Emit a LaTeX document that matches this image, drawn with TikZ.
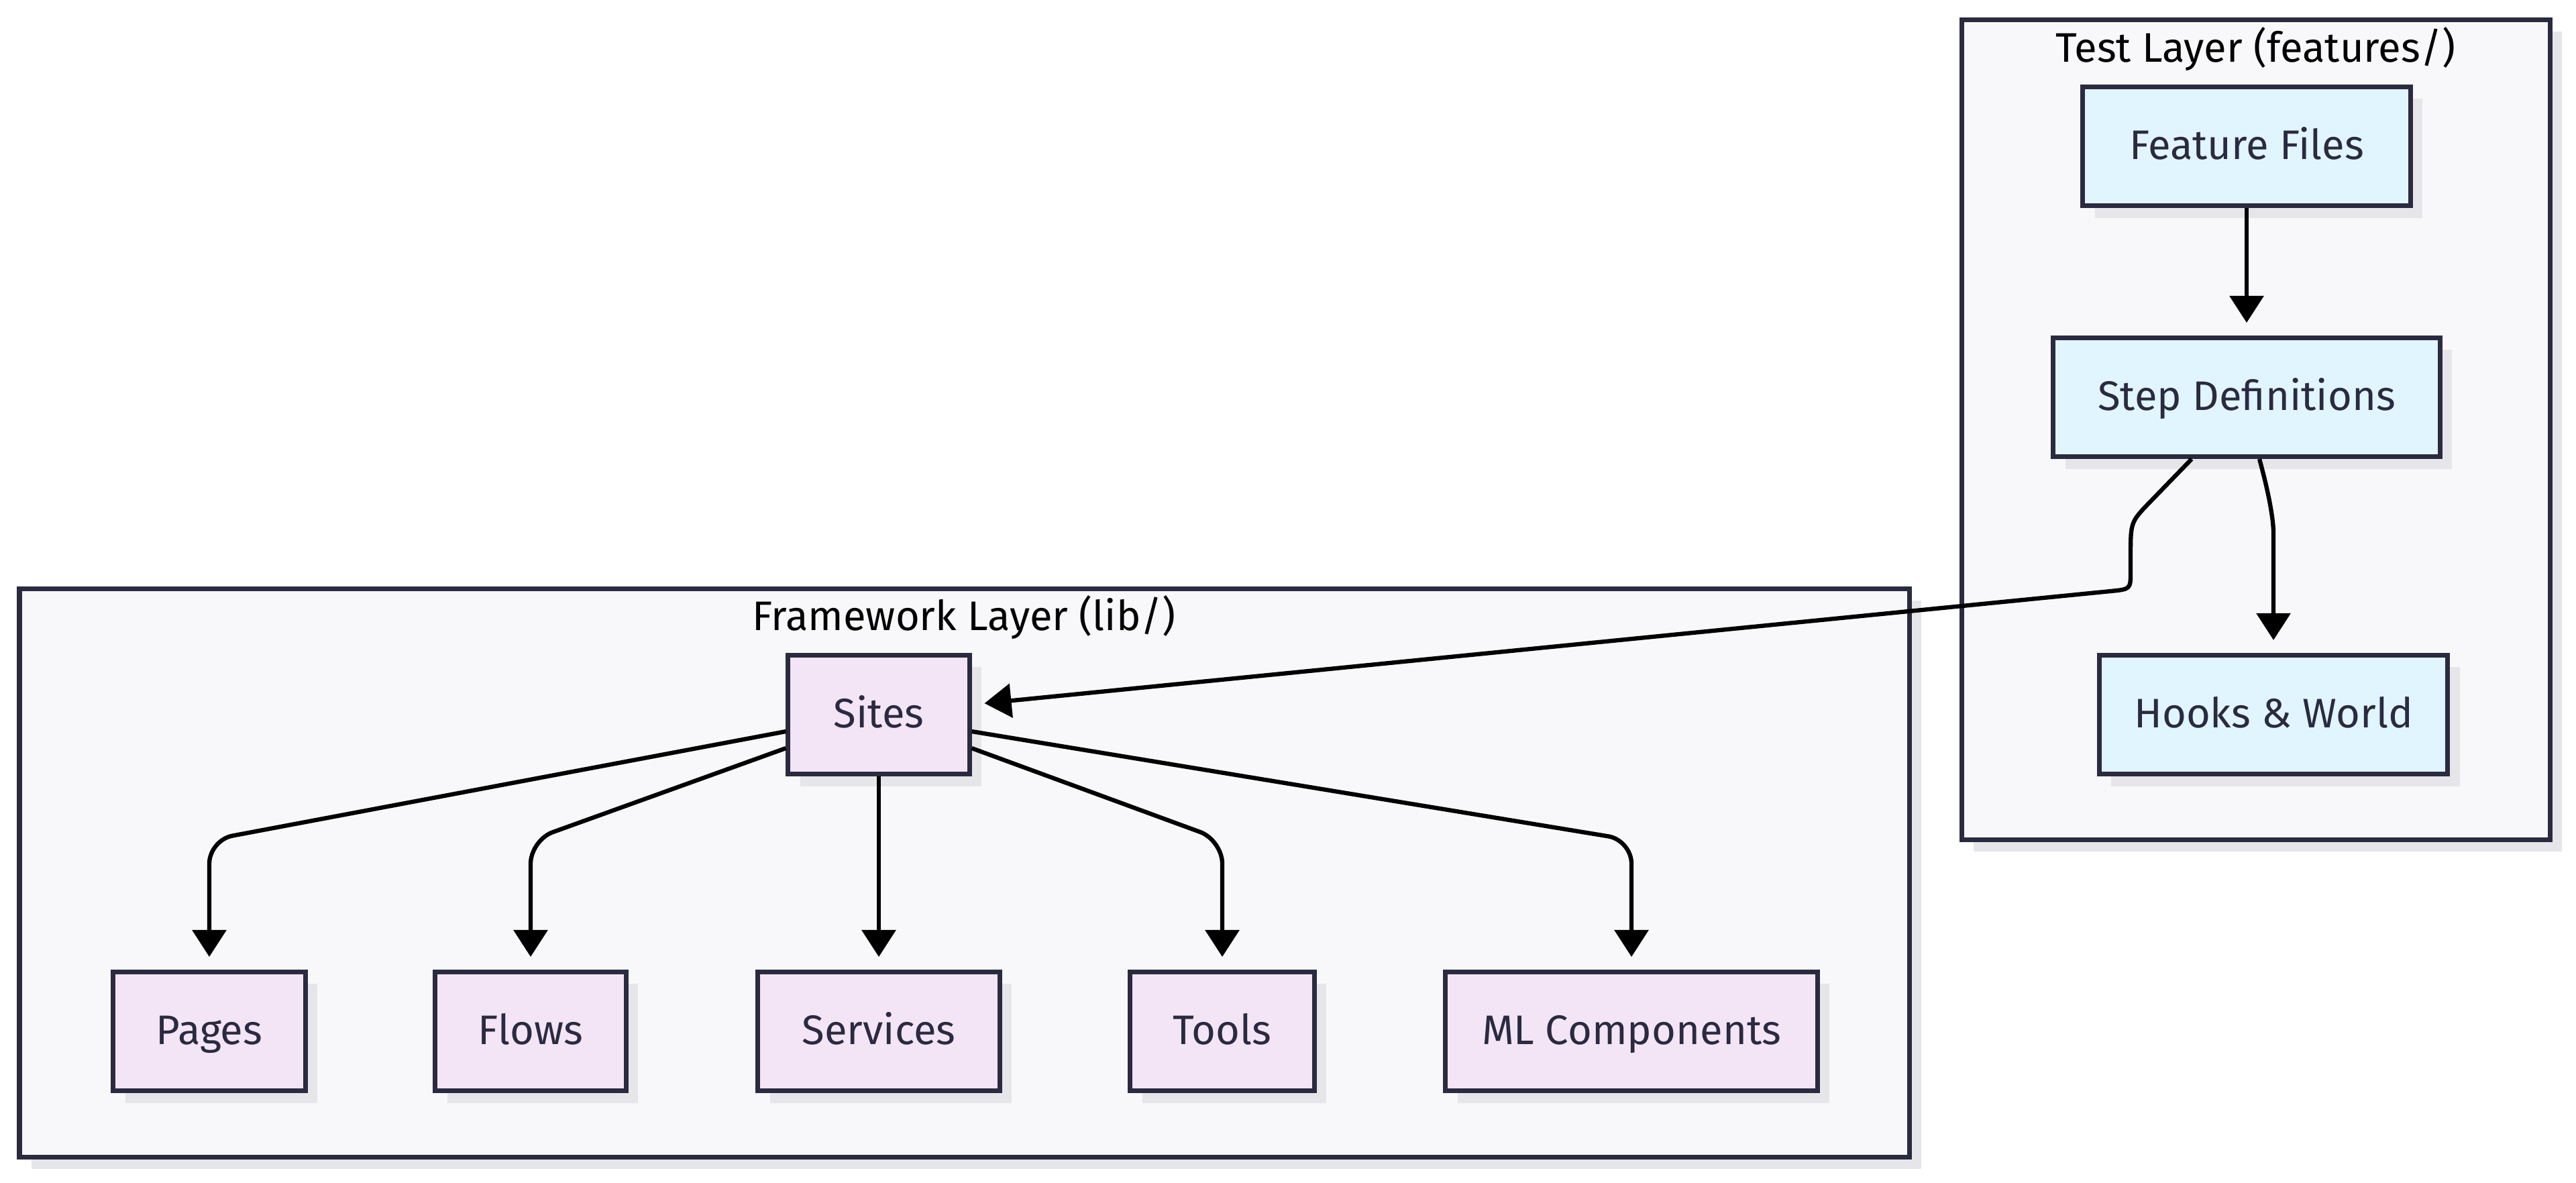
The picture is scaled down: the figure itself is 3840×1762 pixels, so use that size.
\documentclass[tikz,border=0pt]{standalone}
\usepackage{fontspec}
\setmainfont{Fira Sans}
\usetikzlibrary{arrows.meta,calc,shadows}

\definecolor{clusterfill}{HTML}{F8F8FA}
\definecolor{boxline}{HTML}{2A2A40}
\definecolor{testblue}{HTML}{E1F5FE}
\definecolor{libpurple}{HTML}{F3E5F5}
\definecolor{shadowgrey}{HTML}{E6E6EA}

\tikzset{
  box/.style={draw=boxline,line width=2pt,inner sep=0pt,
    minimum height=1.77cm,text=boxline,text height=2.15ex,text depth=0ex,
    font=\fontsize{17.5}{20}\selectfont,
    drop shadow={shadow xshift=0.18cm,shadow yshift=-0.18cm,
      fill=shadowgrey,opacity=1}},
  testbox/.style={box,fill=testblue},
  libbox/.style={box,fill=libpurple},
  cluster/.style={draw=boxline,fill=clusterfill,line width=2pt},
  title/.style={font=\fontsize{17.5}{20}\selectfont,text=black},
  arr/.style={-{Triangle[length=0.4cm,width=0.5cm]},line width=1.8pt,
    shorten >=0.19cm,rounded corners=0.35cm}
}

\begin{document}
\begin{tikzpicture}[x=0.01cm,y=-0.01cm]

\useasboundingbox (0,0) rectangle (3840,1762);

\def\bend{1252}

% clusters
\fill[shadowgrey] (47,895) rectangle (2864,1742);
\draw[cluster] (29,877) rectangle (2846,1724);
\node[title] (libtitle) at (1437,920) {Framework Layer (lib/)};

\fill[shadowgrey] (2942,47) rectangle (3819,1269);
\draw[cluster] (2924,29) rectangle (3801,1251);
\node[title] (testtitle) at (3362,73) {Test Layer (features/)};

% test layer
\node[testbox,minimum width=4.88cm] (ff) at (3349,218) {Feature Files};
\node[testbox,minimum width=5.76cm] (sd) at (3349,592) {Step Definitions};
\node[testbox,minimum width=5.19cm] (hw) at (3389,1065) {Hooks \& World};

% framework layer
\node[libbox,minimum width=2.70cm] (sites) at (1310,1065) {Sites};
\node[libbox,minimum width=2.86cm] (pages) at (312,1537) {Pages};
\node[libbox,minimum width=2.84cm] (flows) at (791,1537) {Flows};
\node[libbox,minimum width=3.60cm] (services) at (1310,1537) {Services};
\node[libbox,minimum width=2.74cm] (tools) at (1822,1537) {Tools};
\node[libbox,minimum width=5.54cm] (ml) at (2432,1537) {ML Components};

\draw[arr] (ff.south) -- (sd.north);
\draw[arr] ($(sd.south)+(19,0)$) .. controls (3389,760) and (3389,790) .. (3389,830) -- (hw.north);
\draw[arr,rounded corners=0pt] ($(sd.south)+(-82,0)$) -- (3205,748)
  .. controls (3176,778) .. (3176,829) -- (3176,852)
  .. controls (3176,878) .. (3146,881) -- ($(sites.east)+(0,-15)$);

\draw[arr] ($(sites.west)+(0,25)$) -- (pages.north |- 0,\bend) -- (pages.north);
\draw[arr] ($(sites.west)+(0,50)$) -- (flows.north |- 0,\bend) -- (flows.north);
\draw[arr] (sites.south) -- (services.north);
\draw[arr] ($(sites.east)+(0,50)$) -- (tools.north |- 0,\bend) -- (tools.north);
\draw[arr] ($(sites.east)+(0,25)$) -- (ml.north |- 0,\bend) -- (ml.north);

\end{tikzpicture}
\end{document}
